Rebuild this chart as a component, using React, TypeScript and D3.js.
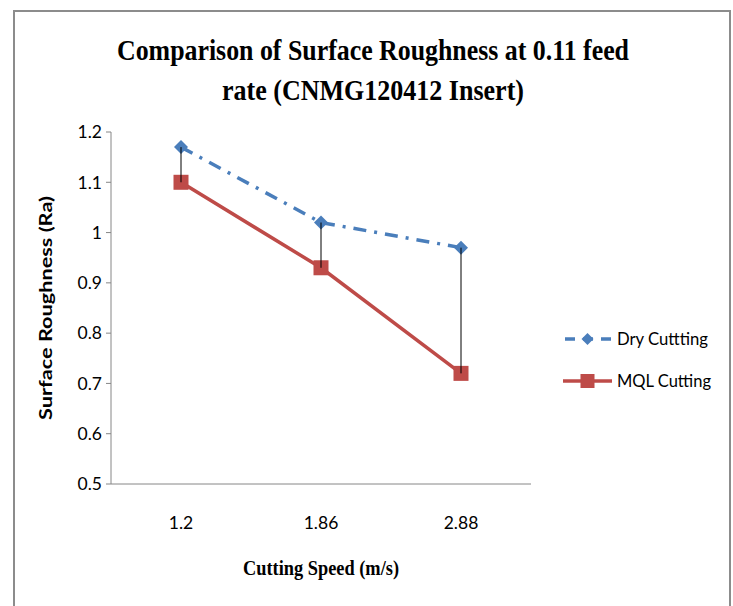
import React from "react";
import * as d3 from "d3";

const categories = ["1.2", "1.86", "2.88"];
const dryValues = [1.17, 1.02, 0.97];
const mqlValues = [1.1, 0.93, 0.72];
const yTicks = [0.5, 0.6, 0.7, 0.8, 0.9, 1.0, 1.1, 1.2];
const seriesNames = ["Dry Cuttting", "MQL Cutting"];
const titleLines = ["Comparison of Surface Roughness at 0.11 feed", "rate (CNMG120412 Insert)"];

const W = 733;
const H = 606;
const plot = { left: 111, right: 531, top: 132, bottom: 484 };
const BLUE = "#4a7ebb";
const RED = "#be4b48";
const SANS = "Lato, 'Open Sans', sans-serif";
const SERIF = "'Liberation Serif', 'Times New Roman', serif";

export default function App() {
  const x = d3.scaleBand<string>().domain(categories).range([plot.left, plot.right]);
  const y = d3.scaleLinear().domain([0.5, 1.2]).range([plot.bottom, plot.top]);
  const cx = (c: string) => (x(c) as number) + x.bandwidth() / 2;
  const line = d3
    .line<number>()
    .x((_, i) => cx(categories[i]))
    .y((d) => y(d));

  const diamond = (px: number, py: number, r: number) =>
    `M${px},${py - r}L${px + r},${py}L${px},${py + r}L${px - r},${py}Z`;

  return (
    <svg width={W} height={H} style={{ position: "absolute", left: 0, top: 0, background: "#fff" }}>
      <rect x={0} y={0} width={W} height={H} fill="#fff" />
      <rect x={14} y={11} width={716} height={620} fill="none" stroke="#8c8c8c" strokeWidth={2} />
      {/* title */}
      <text x={373} y={60} textAnchor="middle" fontFamily={SERIF} fontWeight="bold" fontSize={29}
        textLength={512} lengthAdjust="spacingAndGlyphs" fill="#000">{titleLines[0]}</text>
      <text x={373} y={100} textAnchor="middle" fontFamily={SERIF} fontWeight="bold" fontSize={29}
        textLength={302} lengthAdjust="spacingAndGlyphs" fill="#000">{titleLines[1]}</text>
      {/* axes */}
      <line x1={plot.left} x2={plot.left} y1={plot.top} y2={plot.bottom} stroke="#868686" strokeWidth={1} />
      <line x1={plot.left} x2={plot.right} y1={plot.bottom} y2={plot.bottom} stroke="#868686" strokeWidth={1} />
      {yTicks.map((t) => (
        <g key={t}>
          <line x1={plot.left - 5} x2={plot.left} y1={y(t)} y2={y(t)} stroke="#868686" />
          <text x={plot.left - 9} y={y(t)} dy="0.36em" textAnchor="end" fontFamily={SANS} fontSize={17.5} fill="#000">
            {d3.format("")(+t.toFixed(1))}
          </text>
        </g>
      ))}
      {categories.map((c) => (
        <text key={c} x={cx(c)} y={523} dy="0.36em" textAnchor="middle" fontFamily={SANS} fontSize={17.5} fill="#000">
          {c}
        </text>
      ))}
      <text x={321} y={575} textAnchor="middle" fontFamily={SERIF} fontWeight="bold" fontSize={21}
        textLength={156} lengthAdjust="spacingAndGlyphs" fill="#000">Cutting Speed (m/s)</text>
      <text transform={`translate(52,308) rotate(-90)`} textAnchor="middle" fontFamily={SANS} fontWeight="bold"
        fontSize={16.5} textLength={224} lengthAdjust="spacingAndGlyphs" fill="#000">Surface Roughness (Ra)</text>
      {/* series lines */}
      <path d={line(mqlValues) || ""} fill="none" stroke={RED} strokeWidth={3.5} />
      <path d={line(dryValues) || ""} fill="none" stroke={BLUE} strokeWidth={3.5} strokeDasharray="13,8,3,8" />
      {/* markers */}
      {mqlValues.map((v, i) => (
        <rect key={"m" + i} x={cx(categories[i]) - 7.5} y={y(v) - 7.5} width={15} height={15} fill={RED} />
      ))}
      {dryValues.map((v, i) => (
        <path key={"d" + i} d={diamond(cx(categories[i]), y(v), 7)} fill={BLUE} />
      ))}
      {/* high-low lines */}
      {categories.map((c, i) => (
        <line key={"hl" + i} x1={cx(c)} x2={cx(c)} y1={y(dryValues[i])} y2={y(mqlValues[i])} stroke="#000" strokeWidth={1} />
      ))}
      {/* legend */}
      <line x1={563} x2={612} y1={339} y2={339} stroke={BLUE} strokeWidth={3.5} strokeDasharray="10,8" strokeDashoffset={-2} />
      <path d={diamond(587.5, 339, 6)} fill={BLUE} />
      <text x={617} y={339} dy="0.36em" fontFamily={SANS} fontSize={17} textLength={91} lengthAdjust="spacingAndGlyphs" fill="#000">{seriesNames[0]}</text>
      <line x1={563} x2={612} y1={381} y2={381} stroke={RED} strokeWidth={3.5} />
      <rect x={580.5} y={374} width={14} height={14} fill={RED} />
      <text x={617} y={381} dy="0.36em" fontFamily={SANS} fontSize={17} textLength={94} lengthAdjust="spacingAndGlyphs" fill="#000">{seriesNames[1]}</text>
    </svg>
  );
}
